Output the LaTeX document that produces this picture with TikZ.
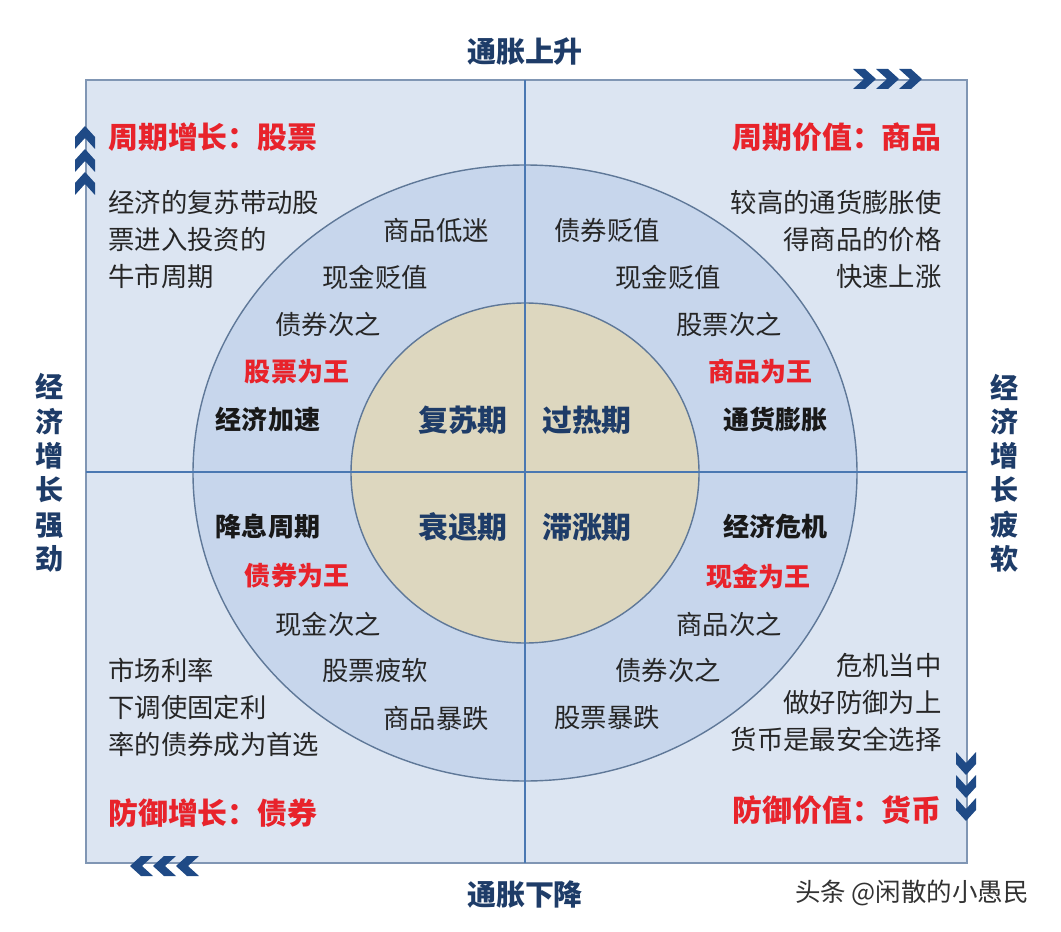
\documentclass[tikz,border=0pt]{standalone}
\usepackage{fontspec}
\setmainfont{Noto Sans CJK SC}
\definecolor{navy}{HTML}{1E3C68}
\definecolor{chevblue}{HTML}{1F4A86}
\definecolor{hired}{HTML}{E8232B}
\definecolor{boxfill}{HTML}{DCE5F2}
\definecolor{boxline}{HTML}{8096B4}
\definecolor{ringfill}{HTML}{C7D6EC}
\definecolor{ringline}{HTML}{5F7898}
\definecolor{corefill}{HTML}{DDD7BF}
\definecolor{axisline}{HTML}{4A78B2}
\begin{document}
\begin{tikzpicture}[x=0.02cm,y=-0.02cm,
	every node/.style={inner sep=0pt},
	title/.style={font=\fontsize{16.5}{18}\selectfont\bfseries,text=navy},
	side/.style={font=\fontsize{16}{19.5}\selectfont\bfseries,text=navy,align=center},
	head/.style={font=\fontsize{17}{19}\selectfont\bfseries,text=hired},
	body/.style={font=\fontsize{15}{21}\selectfont,text=black!85},
	key/.style={font=\fontsize{14.8}{17}\selectfont\bfseries,text=black!90},
	king/.style={font=\fontsize{14.8}{17}\selectfont\bfseries,text=hired},
	phase/.style={font=\fontsize{17}{19}\selectfont\bfseries,text=navy},
	chev/.pic={\fill[chevblue] (-12,-10) -- (0,-10) -- (11,0) -- (0,10) -- (-12,10) -- (-1,0) -- cycle;}]
	\useasboundingbox (0,0) rectangle (1061,932);
	\fill[white] (0,0) rectangle (1061,932);
	% frame
	\draw[boxline,fill=boxfill,line width=1pt] (86,80) rectangle (967,863);
	\draw[ringline,fill=ringfill,line width=0.8pt] (525,473) ellipse [x radius=332,y radius=308];
	\draw[ringline,fill=corefill,line width=0.8pt] (525,473) ellipse [x radius=174,y radius=170];
	\draw[axisline,line width=1.3pt] (525,80) -- (525,863);
	\draw[axisline,line width=1.3pt] (86,472) -- (967,472);
	% chevrons
	\foreach \x in {865,888,911} \pic at (\x,79) {chev};
	\foreach \y in {137,160,183} \pic[rotate=90] at (85,\y) {chev};
	\foreach \y in {764,787,810} \pic[rotate=-90] at (966,\y) {chev};
	\foreach \x in {141,164,187} \pic[rotate=180] at (\x,866) {chev};
	% axis labels
	\node[title] (up) at (525,52) {通胀上升};
	\node[title] (down) at (525,895) {通胀下降};
	\node[side] (strong) at (50,473) {经\\济\\增\\长\\强\\劲};
	\node[side] (weak) at (1005,473) {经\\济\\增\\长\\疲\\软};
	% corners
	\node[head,anchor=west] (tl) at (108,137) {周期增长：股票};
	\node[body,anchor=north west,align=left] (tltext) at (108,190) {经济的复苏带动股\\票进入投资的\\牛市周期};
	\node[head,anchor=east] (tr) at (942,137) {周期价值：商品};
	\node[body,anchor=north east,align=right] (trtext) at (942,190) {较高的通货膨胀使\\得商品的价格\\快速上涨};
	\node[body,anchor=north west,align=left] (bltext) at (108,658) {市场利率\\下调使固定利\\率的债券成为首选};
	\node[head,anchor=west] (bl) at (108,813) {防御增长：债券};
	\node[body,anchor=north east,align=right] (brtext) at (942,653) {危机当中\\做好防御为上\\货币是最安全选择};
	\node[head,anchor=east] (br) at (942,810) {防御价值：货币};
	% ring, upper half
	\node[body] (a1) at (436,230) {商品低迷};
	\node[body] (a2) at (375,277) {现金贬值};
	\node[body] (a3) at (328,324) {债券次之};
	\node[king] (a4) at (297,372) {股票为王};
	\node[key] (a5) at (268,420) {经济加速};
	\node[body] (b1) at (607,230) {债券贬值};
	\node[body] (b2) at (668,277) {现金贬值};
	\node[body] (b3) at (729,324) {股票次之};
	\node[king] (b4) at (760,372) {商品为王};
	\node[key] (b5) at (775,420) {通货膨胀};
	% ring, lower half
	\node[key] (c1) at (268,527) {降息周期};
	\node[king] (c2) at (297,576) {债券为王};
	\node[body] (c3) at (328,624) {现金次之};
	\node[body] (c4) at (375,670) {股票疲软};
	\node[body] (c5) at (436,718) {商品暴跌};
	\node[key] (d1) at (775,527) {经济危机};
	\node[king] (d2) at (758,576) {现金为王};
	\node[body] (d3) at (729,624) {商品次之};
	\node[body] (d4) at (668,670) {债券次之};
	\node[body] (d5) at (607,718) {股票暴跌};
	% center
	\node[phase] (p1) at (463,420) {复苏期};
	\node[phase] (p2) at (587,420) {过热期};
	\node[phase] (p3) at (463,527) {衰退期};
	\node[phase] (p4) at (587,527) {滞涨期};
	% mark
	\node[font=\fontsize{14.5}{16}\selectfont,text=black!80] (mark) at (912,893) {头条 @闲散的小愚民};
\end{tikzpicture}
\end{document}
